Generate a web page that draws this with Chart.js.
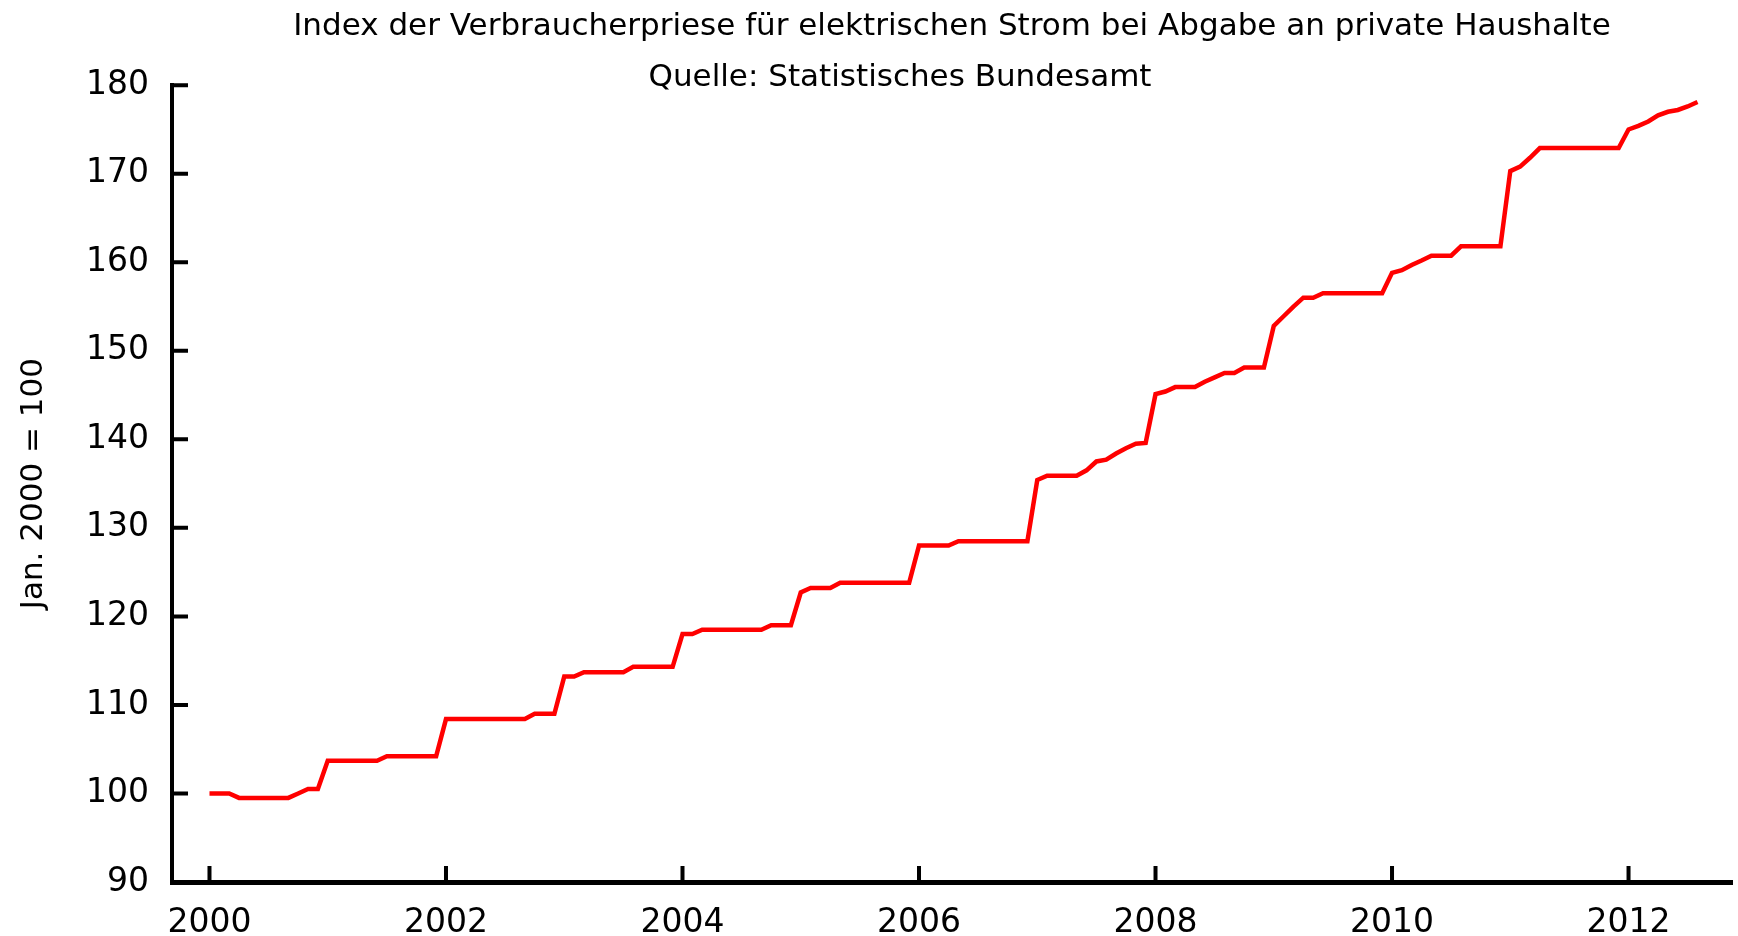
<!DOCTYPE html>
<html>
<head>
<meta charset="utf-8">
<script src="https://cdn.jsdelivr.net/npm/chart.js@4/dist/chart.umd.min.js"></script>
<style>
  html, body { margin: 0; padding: 0; background: #fff; }
  #wrap { width: 1738px; height: 936px; }
</style>
</head>
<body>
<div id="wrap"><canvas id="strom"></canvas></div>
<script>
// monthly index values (Jan. 2000 = 100)
const index2000 = [100.0, 100.0, 100.0, 99.5, 99.5, 99.5, 99.5, 99.5, 99.5, 100.0, 100.5, 100.5];
const index2001 = [103.7, 103.7, 103.7, 103.7, 103.7, 103.7, 104.2, 104.2, 104.2, 104.2, 104.2, 104.2];
const index2002 = [108.4, 108.4, 108.4, 108.4, 108.4, 108.4, 108.4, 108.4, 108.4, 109.0, 109.0, 109.0];
const index2003 = [113.2, 113.2, 113.7, 113.7, 113.7, 113.7, 113.7, 114.3, 114.3, 114.3, 114.3, 114.3];
const index2004 = [118.0, 118.0, 118.5, 118.5, 118.5, 118.5, 118.5, 118.5, 118.5, 119.0, 119.0, 119.0];
const index2005 = [122.7, 123.2, 123.2, 123.2, 123.8, 123.8, 123.8, 123.8, 123.8, 123.8, 123.8, 123.8];
const index2006 = [128.0, 128.0, 128.0, 128.0, 128.5, 128.5, 128.5, 128.5, 128.5, 128.5, 128.5, 128.5];
const index2007 = [135.4, 135.9, 135.9, 135.9, 135.9, 136.5, 137.5, 137.7, 138.4, 139.0, 139.5, 139.6];
const index2008 = [145.1, 145.4, 145.9, 145.9, 145.9, 146.5, 147.0, 147.5, 147.5, 148.1, 148.1, 148.1];
const index2009 = [152.8, 153.9, 155.0, 156.0, 156.0, 156.5, 156.5, 156.5, 156.5, 156.5, 156.5, 156.5];
const index2010 = [158.8, 159.1, 159.7, 160.2, 160.75, 160.75, 160.75, 161.8, 161.8, 161.8, 161.8, 161.8];
const index2011 = [170.3, 170.8, 171.8, 172.9, 172.9, 172.9, 172.9, 172.9, 172.9, 172.9, 172.9, 172.9];
const index2012 = [175.0, 175.4, 175.9, 176.6, 177.0, 177.2, 177.6, 178.1];

const startYear = 2000;
const yearTicks = [2000, 2002, 2004, 2006, 2008, 2010, 2012];

const titleText = "Index der Verbraucherpriese für elektrischen Strom bei Abgabe an private Haushalte";
const subtitleText = "Quelle: Statistisches Bundesamt";
const yAxisText = "Jan. 2000 = 100";

let allMonths = [].concat(index2000, index2001, index2002, index2003, index2004, index2005,
  index2006, index2007, index2008, index2009, index2010, index2011, index2012);

// one point per month, x in years
let points = allMonths.map(function (v, i) {
  return { x: startYear + i / 12, y: v };
});

Chart.defaults.font.family = '"DejaVu Sans", sans-serif';
Chart.defaults.color = "#000";

// gnuplot style: tick marks pointing into the plot, plus the source line
const insideTicks = {
  id: "insideTicks",
  afterDraw(chart) {
    let ctx = chart.ctx;
    let area = chart.chartArea;
    let xs = chart.scales.x;
    let ys = chart.scales.y;
    ctx.save();
    ctx.strokeStyle = "#000";
    ctx.lineWidth = 4;
    ctx.beginPath();
    xs.ticks.forEach(function (t) {
      let px = xs.getPixelForValue(t.value);
      ctx.moveTo(px, area.bottom);
      ctx.lineTo(px, area.bottom - 16);
    });
    ys.ticks.forEach(function (t) {
      if (t.value === ys.min) return;
      let py = ys.getPixelForValue(t.value);
      ctx.moveTo(area.left, py);
      ctx.lineTo(area.left + 16, py);
    });
    ctx.stroke();

    // subtitle sits a bit left of the title centre in the original
    ctx.fillStyle = "#000";
    ctx.font = '31px "DejaVu Sans"';
    ctx.textAlign = "center";
    ctx.textBaseline = "middle";
    ctx.fillText(subtitleText, 900, 78);
    ctx.restore();
  },
};

let canvas = document.getElementById("strom").getContext("2d");
let stromChart = new Chart(canvas, {
  type: "line",
  data: {
    datasets: [
      {
        label: "Strom",
        data: points,
        borderColor: "#ff0000",
        borderWidth: 4.5,
        pointRadius: 0,
        tension: 0,
        fill: false,
      },
    ],
  },
  options: {
    responsive: true,
    maintainAspectRatio: false,
    animation: false,
    layout: { padding: { top: 0, right: 6, bottom: 0, left: 0 } },
    plugins: {
      legend: { display: false },
      tooltip: { enabled: false },
      title: {
        display: true,
        text: titleText,
        fullSize: false,
        font: { size: 31, weight: "normal" },
        padding: { top: 8, bottom: 40 },
      },
    },
    scales: {
      x: {
        type: "linear",
        min: 1999.683,
        max: 2012.875,
        grid: { display: false },
        border: { color: "#000", width: 5 },
        afterBuildTicks: function (scale) {
          scale.ticks = yearTicks.map(function (y) {
            return { value: y };
          });
        },
        afterFit: function (scale) {
          scale.height = 54;
        },
        ticks: {
          autoSkip: false,
          maxRotation: 0,
          padding: 14,
          font: { size: 33 },
          callback: function (v) {
            return String(v);
          },
        },
      },
      y: {
        min: 90,
        max: 180,
        grid: { display: false },
        border: { color: "#000", width: 4 },
        afterFit: function (scale) {
          scale.width = 172;
        },
        ticks: {
          stepSize: 10,
          padding: 15,
          font: { size: 33 },
        },
        title: {
          display: true,
          text: yAxisText,
          font: { size: 31 },
          padding: { top: 15, bottom: 0 },
        },
      },
    },
  },
  plugins: [insideTicks],
});
</script>
</body>
</html>
